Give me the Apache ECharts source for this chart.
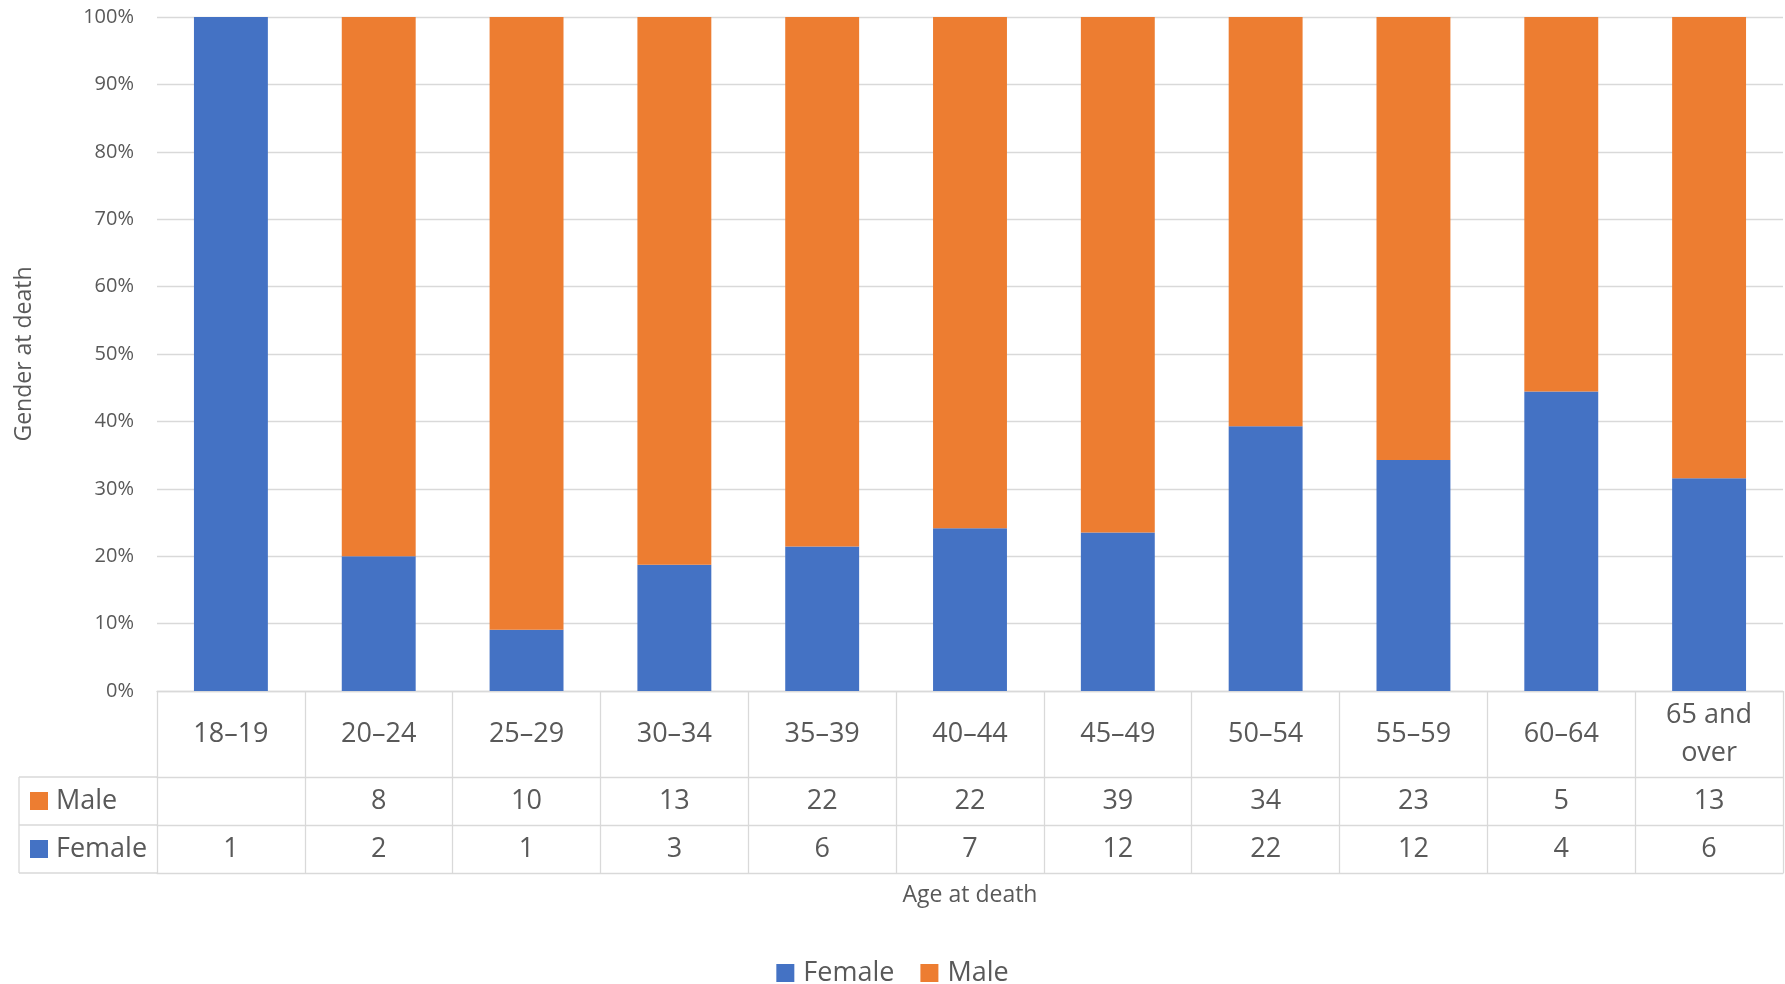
<!DOCTYPE html>
<html>
<head>
<meta charset="utf-8">
<script src="https://cdn.jsdelivr.net/npm/echarts@6/dist/echarts.min.js"></script>
<style>
html,body{margin:0;padding:0;background:#fff;}
#chart{width:1785px;height:984px;}
</style>
</head>
<body>
<div id="chart"></div>
<script>
// ---- data ----
const categories = ['18–19','20–24','25–29','30–34','35–39','40–44','45–49','50–54','55–59','60–64','65 and\nover'];
const maleCounts   = [null, 8, 10, 13, 22, 22, 39, 34, 23, 5, 13];
const femaleCounts = [1, 2, 1, 3, 6, 7, 12, 22, 12, 4, 6];
const yTicks = [0, 0.1, 0.2, 0.3, 0.4, 0.5, 0.6, 0.7, 0.8, 0.9, 1];
const seriesNames = ['Female', 'Male'];
const xTitle = 'Age at death';
const yTitle = 'Gender at death';

// ---- style / layout ----
const FONT = '"Open Sans", "Noto Sans", sans-serif';
const TXT = '#595959';
const LINE = '#d9d9d9';
const BLUE = '#4472C4';
const ORANGE = '#ED7D31';
const G_LEFT = 157, G_TOP = 17, G_BOTTOM_Y = 691, G_RIGHT_X = 1783;
const CAT_ROW_H = 86, VAL_ROW_H = 48;
const TABLE_LEFT = 19;

const totals = categories.map((c, i) => (maleCounts[i] || 0) + (femaleCounts[i] || 0));
const femalePct = femaleCounts.map((v, i) => (v || 0) / totals[i]);
const malePct = maleCounts.map((v, i) => (v || 0) / totals[i]);

const rowY1 = G_BOTTOM_Y + CAT_ROW_H;          // top of Male row
const rowY2 = rowY1 + VAL_ROW_H;                // top of Female row
const rowY3 = rowY2 + VAL_ROW_H;                // bottom of table

const chart = echarts.init(document.getElementById('chart'), null, {renderer: 'canvas'});

function rowAxis(labels, offset, showLabels) {
  return {
    type: 'category',
    gridIndex: 0,
    position: 'bottom',
    offset: offset,
    data: labels,
    boundaryGap: true,
    axisLine: {show: true, lineStyle: {color: LINE, width: 1.3}},
    axisTick: {show: false},
    splitLine: {show: false},
    axisLabel: {
      show: showLabels, interval: 0, color: TXT, fontFamily: FONT, fontSize: 27,
      margin: VAL_ROW_H / 2, verticalAlign: 'middle'
    }
  };
}

const option = {
  animation: false,
  textStyle: {fontFamily: FONT},
  color: [BLUE, ORANGE],
  grid: {left: G_LEFT, top: G_TOP, right: 1785 - G_RIGHT_X, height: G_BOTTOM_Y - G_TOP, containLabel: false},
  legend: {
    data: seriesNames,
    left: 'center',
    top: 951,
    itemWidth: 18, itemHeight: 18, itemGap: 26,
    icon: 'rect',
    textStyle: {color: TXT, fontSize: 27, fontFamily: FONT, lineHeight: 34, padding: [0, 0, 0, 4]},
    selectedMode: false
  },
  xAxis: [
    {
      type: 'category',
      gridIndex: 0,
      data: categories,
      position: 'bottom',
      boundaryGap: true,
      axisLine: {show: true, lineStyle: {color: LINE, width: 1.3}},
      axisTick: {show: true, alignWithLabel: false, interval: 0, length: CAT_ROW_H + 2 * VAL_ROW_H, lineStyle: {color: LINE, width: 1.3}},
      axisLabel: {interval: 0, color: TXT, fontFamily: FONT, fontSize: 27, lineHeight: 38, margin: CAT_ROW_H / 2, verticalAlign: 'middle'},
      name: xTitle,
      nameLocation: 'middle',
      nameGap: 204,
      nameTextStyle: {color: TXT, fontFamily: FONT, fontSize: 23, verticalAlign: 'middle'}
    },
    rowAxis(maleCounts.map(v => v == null ? '' : String(v)), CAT_ROW_H, true),
    rowAxis(femaleCounts.map(v => v == null ? '' : String(v)), CAT_ROW_H + VAL_ROW_H, true),
    rowAxis(categories.map(() => ''), CAT_ROW_H + 2 * VAL_ROW_H, false)
  ],
  yAxis: {
    type: 'value',
    min: yTicks[0],
    max: yTicks[yTicks.length - 1],
    interval: yTicks[1] - yTicks[0],
    axisLine: {show: false},
    axisTick: {show: false},
    splitLine: {show: true, lineStyle: {color: LINE, width: 1.3}},
    axisLabel: {color: TXT, fontFamily: FONT, fontSize: 20, margin: 23, formatter: v => Math.round(v * 100) + '%'},
    name: yTitle,
    nameLocation: 'middle',
    nameGap: 133,
    nameRotate: 90,
    nameTextStyle: {color: TXT, fontFamily: FONT, fontSize: 23, verticalAlign: 'middle'}
  },
  series: [
    {name: seriesNames[0], type: 'bar', stack: 'total', xAxisIndex: 0, data: femalePct, barCategoryGap: '50%', itemStyle: {color: BLUE}},
    {name: seriesNames[1], type: 'bar', stack: 'total', xAxisIndex: 0, data: malePct, barCategoryGap: '50%', itemStyle: {color: ORANGE}}
  ],
  graphic: [
    // table row header borders
    {type: 'line', shape: {x1: TABLE_LEFT, y1: rowY1, x2: G_LEFT, y2: rowY1}, style: {stroke: LINE, lineWidth: 1.3}},
    {type: 'line', shape: {x1: TABLE_LEFT, y1: rowY2, x2: G_LEFT, y2: rowY2}, style: {stroke: LINE, lineWidth: 1.3}},
    {type: 'line', shape: {x1: TABLE_LEFT, y1: rowY3, x2: G_LEFT, y2: rowY3}, style: {stroke: LINE, lineWidth: 1.3}},
    {type: 'line', shape: {x1: TABLE_LEFT, y1: rowY1, x2: TABLE_LEFT, y2: rowY3}, style: {stroke: LINE, lineWidth: 1.3}},
    // row headers (Male, Female)
    {type: 'rect', shape: {x: 30, y: rowY1 + VAL_ROW_H / 2 - 9, width: 18, height: 18}, style: {fill: ORANGE}},
    {type: 'text', x: 56, y: rowY1 + VAL_ROW_H / 2, style: {text: seriesNames[1], fill: TXT, font: '27px ' + FONT, textVerticalAlign: 'middle', verticalAlign: 'middle'}},
    {type: 'rect', shape: {x: 30, y: rowY2 + VAL_ROW_H / 2 - 9, width: 18, height: 18}, style: {fill: BLUE}},
    {type: 'text', x: 56, y: rowY2 + VAL_ROW_H / 2, style: {text: seriesNames[0], fill: TXT, font: '27px ' + FONT, textVerticalAlign: 'middle', verticalAlign: 'middle'}}
  ]
};
chart.setOption(option);
</script>
</body>
</html>
